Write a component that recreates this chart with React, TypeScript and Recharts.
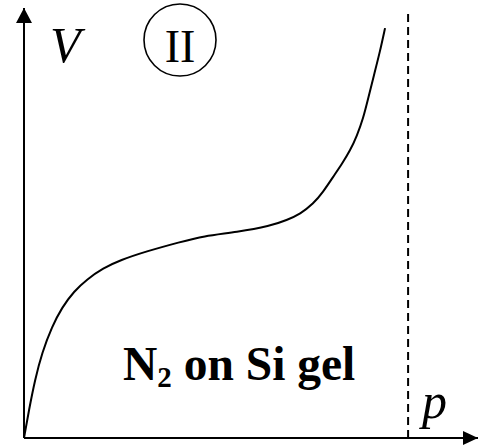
import React from 'react';
import { LineChart, Line, XAxis, YAxis, ReferenceLine, ReferenceDot } from 'recharts';

// relative pressure p/p0 and adsorbed volume V (arbitrary units)
const pValues = [0, 0.013, 0.0286, 0.047, 0.073, 0.099, 0.13, 0.164, 0.206, 0.25, 0.32, 0.406, 0.466, 0.555, 0.641, 0.685, 0.719, 0.753, 0.779, 0.805, 0.828, 0.849, 0.867, 0.883, 0.896, 0.911, 0.927, 0.94];
const vValues = [0, 0.28, 0.58, 0.85, 1.11, 1.3, 1.46, 1.58, 1.69, 1.77, 1.86, 1.95, 2.01, 2.05, 2.11, 2.17, 2.23, 2.33, 2.45, 2.6, 2.73, 2.86, 3.01, 3.18, 3.38, 3.61, 3.85, 4.08];
const saturationP = 1;
const pMax = 1.182;
const vMax = 4.28;
const dashTopV = 4.26;

const data = pValues.map((p, i) => ({ p, v: vValues[i] }));

const serif = '"Liberation Serif", "Times New Roman", serif';

const ArrowRight = (props: any) => {
  const { cx, cy } = props;
  return <path d={`M${cx},${cy} L${cx - 15},${cy - 7} L${cx - 15},${cy + 7} Z`} fill="#000" />;
};
const ArrowUp = (props: any) => {
  const { cx, cy } = props;
  return <path d={`M${cx},${cy} L${cx - 8},${cy + 15} L${cx + 8},${cy + 15} Z`} fill="#000" />;
};

export default function App() {
  return (
    <div style={{ position: 'absolute', left: 0, top: 0, background: '#fff' }}>
      <LineChart width={481} height={447} data={data} margin={{ top: 8, right: 3, bottom: 9, left: 24 }}>
        <XAxis dataKey="p" type="number" domain={[0, pMax]} hide />
        <YAxis type="number" domain={[0, vMax]} hide />
        <ReferenceLine segment={[{ x: 0, y: 0 }, { x: pMax, y: 0 }]} stroke="#000" strokeWidth={2} ifOverflow="visible" />
        <ReferenceLine segment={[{ x: 0, y: 0 }, { x: 0, y: vMax }]} stroke="#000" strokeWidth={2} ifOverflow="visible" />
        <ReferenceLine segment={[{ x: saturationP, y: 0 }, { x: saturationP, y: dashTopV }]}
          stroke="#000" strokeWidth={2} strokeDasharray="8 5" />
        <Line dataKey="v" type="basis" stroke="#000" strokeWidth={2} dot={false} isAnimationActive={false} />
        <ReferenceDot x={pMax} y={0} r={1} shape={ArrowRight} ifOverflow="visible" />
        <ReferenceDot x={0} y={vMax} r={1} shape={ArrowUp} ifOverflow="visible" />
        <text x={50} y={62} fontFamily={serif} fontStyle="italic" fontSize={50} fill="#000">V</text>
        <circle cx={180} cy={40} r={36} fill="none" stroke="#000" strokeWidth={1.6} />
        <text x={180} y={62} textAnchor="middle" fontFamily={serif} fontSize={46} fill="#000">II</text>
        <text x={123} y={380} fontFamily={serif} fontWeight="bold" fontSize={47.5} fill="#000">
          N<tspan fontSize={29} dy={7}>2</tspan><tspan dy={-7}> on Si gel</tspan>
        </text>
        <text x={422} y={418} fontFamily={serif} fontStyle="italic" fontSize={50} fill="#000">p</text>
      </LineChart>
    </div>
  );
}
